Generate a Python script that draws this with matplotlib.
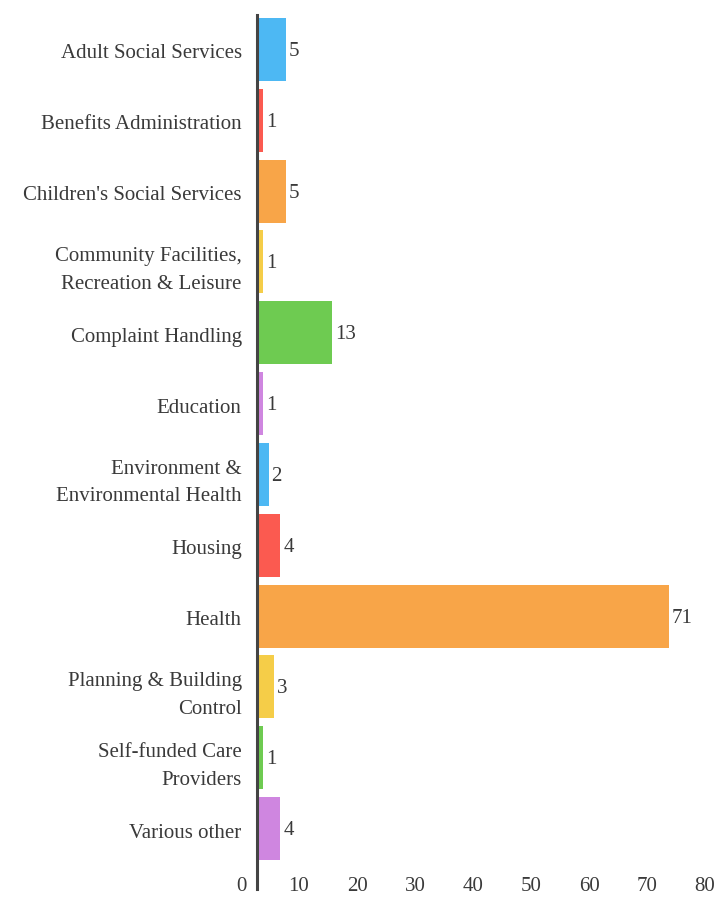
import matplotlib.pyplot as plt
import matplotlib.transforms as mtransforms

# categories (top to bottom) and counts
categories = ['Adult Social Services', 'Benefits Administration', "Children's Social Services",
              'Community Facilities,\nRecreation & Leisure', 'Complaint Handling', 'Education',
              'Environment &\nEnvironmental Health', 'Housing', 'Health',
              'Planning & Building\nControl', 'Self-funded Care\nProviders', 'Various other']
counts = [5, 1, 5, 1, 13, 1, 2, 4, 71, 3, 1, 4]
colors = ['#4db8f3', '#fb5a50', '#f8a548', '#f5cd48', '#6ecb51', '#cf86e0',
          '#4db8f3', '#fb5a50', '#f8a548', '#f5cd48', '#6ecb51', '#cf86e0']
xticks = [0, 10, 20, 30, 40, 50, 60, 70, 80]

plt.rcParams['font.family'] = ['Liberation Serif', 'DejaVu Serif']
txt = '#3a3a3a'
fs = 15

fig = plt.figure(figsize=(7.15, 8.97), dpi=100)
# zero at x=257px, 5.8 px per unit
x0 = 257 / 715
w = 80 * 5.8 / 715
ax = fig.add_axes([x0, 33 / 897, w, 850 / 897])

ypos = list(range(len(categories)))
ax.barh(ypos, counts, height=0.89, color=colors)
for y, v in zip(ypos, counts):
    ax.text(v, y, str(v), va='center', ha='left', fontsize=fs, color=txt,
            transform=ax.transData + mtransforms.ScaledTranslation(3 / 100, -2 / 100, fig.dpi_scale_trans))

ax.set_ylim(len(categories) - 0.5, -0.5)
ax.set_xlim(0, 80)
ax.set_yticks(ypos)
ax.set_yticklabels(categories, fontsize=fs, color=txt, linespacing=1.6)
ax.tick_params(axis='y', length=0, pad=11)
for lbl in ax.get_yticklabels():
    lbl.set_transform(lbl.get_transform() + mtransforms.ScaledTranslation(0, -2 / 100, fig.dpi_scale_trans))
ax.set_xticks(xticks)
ax.set_xticklabels([str(t) for t in xticks], fontsize=fs, color=txt)
ax.tick_params(axis='x', length=0, pad=9)
for lbl in ax.get_xticklabels():
    lbl.set_transform(lbl.get_transform() + mtransforms.ScaledTranslation(-16 / 100, 0, fig.dpi_scale_trans))

for s in ['top', 'right', 'bottom']:
    ax.spines[s].set_visible(False)
ax.spines['left'].set_color('#444444')
ax.spines['left'].set_linewidth(2.2)
ax.spines['left'].set_bounds(len(categories) - 0.5 + 0.35, -0.5 + 0.02)

fig.savefig('out.png', dpi=100)
